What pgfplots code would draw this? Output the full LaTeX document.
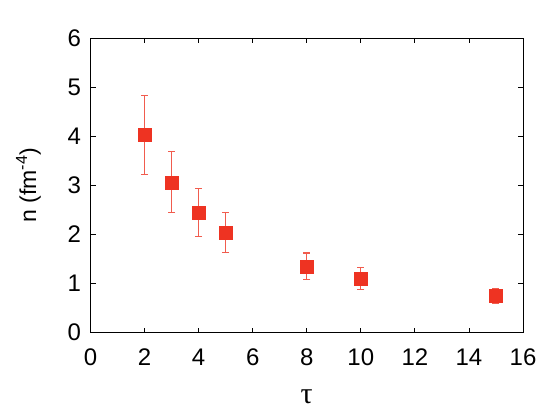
\documentclass[border=0pt]{standalone}
\usepackage{fontspec}
\setmainfont{Liberation Sans}
\newfontfamily\seriffont{Liberation Serif}
\usepackage{pgfplots}
\pgfplotsset{compat=1.18}
\definecolor{gred}{HTML}{EE3322}
\begin{document}
\begin{tikzpicture}
\useasboundingbox (-90.5pt,-85.5pt) rectangle (457.5pt,332.5pt);
\begin{axis}[
  at={(0pt,0pt)}, anchor=south west,
  scale only axis, width=432.5pt, height=294.5pt,
  xmin=0, xmax=16, ymin=0, ymax=6,
  xtick={0,2,...,16}, ytick={0,1,...,6},
  tick align=inside, major tick length=5pt,
  tick style={black, line width=0.8pt},
  axis line style={black, line width=0.9pt},
  /pgf/number format/assume math mode=true,
  ticklabel style={font=\fontsize{24pt}{28pt}\selectfont},
  xticklabel style={anchor=center, yshift=-24.5pt},
  yticklabel style={anchor=east, xshift=-6pt},
  xlabel={\seriffont τ}, xlabel style={font=\fontsize{30pt}{34pt}\selectfont, anchor=center, at={(axis description cs:0.5,0)}, yshift=-64pt},
  ylabel={n (fm\textsuperscript{-4})}, ylabel style={font=\fontsize{23pt}{27pt}\selectfont, anchor=center, at={(axis description cs:0,0.5)}, yshift=62pt},
]
\addplot[only marks, mark=square*, mark size=6.5pt, color=gred,
  error bars/.cd, y dir=both, y explicit,
  error bar style={gred!80, line width=1.1pt},
  error mark options={rotate=90, mark size=3.5pt, gred!80, line width=1.1pt}]
  coordinates {
  (2,4.02) +- (0,0.81)
  (3,3.06) +- (0,0.62)
  (4,2.45) +- (0,0.49)
  (5,2.04) +- (0,0.41)
  (8,1.35) +- (0,0.27)
  (10,1.10) +- (0,0.22)
  (15,0.74) +- (0,0.15)
  };
\end{axis}
\end{tikzpicture}
\end{document}
